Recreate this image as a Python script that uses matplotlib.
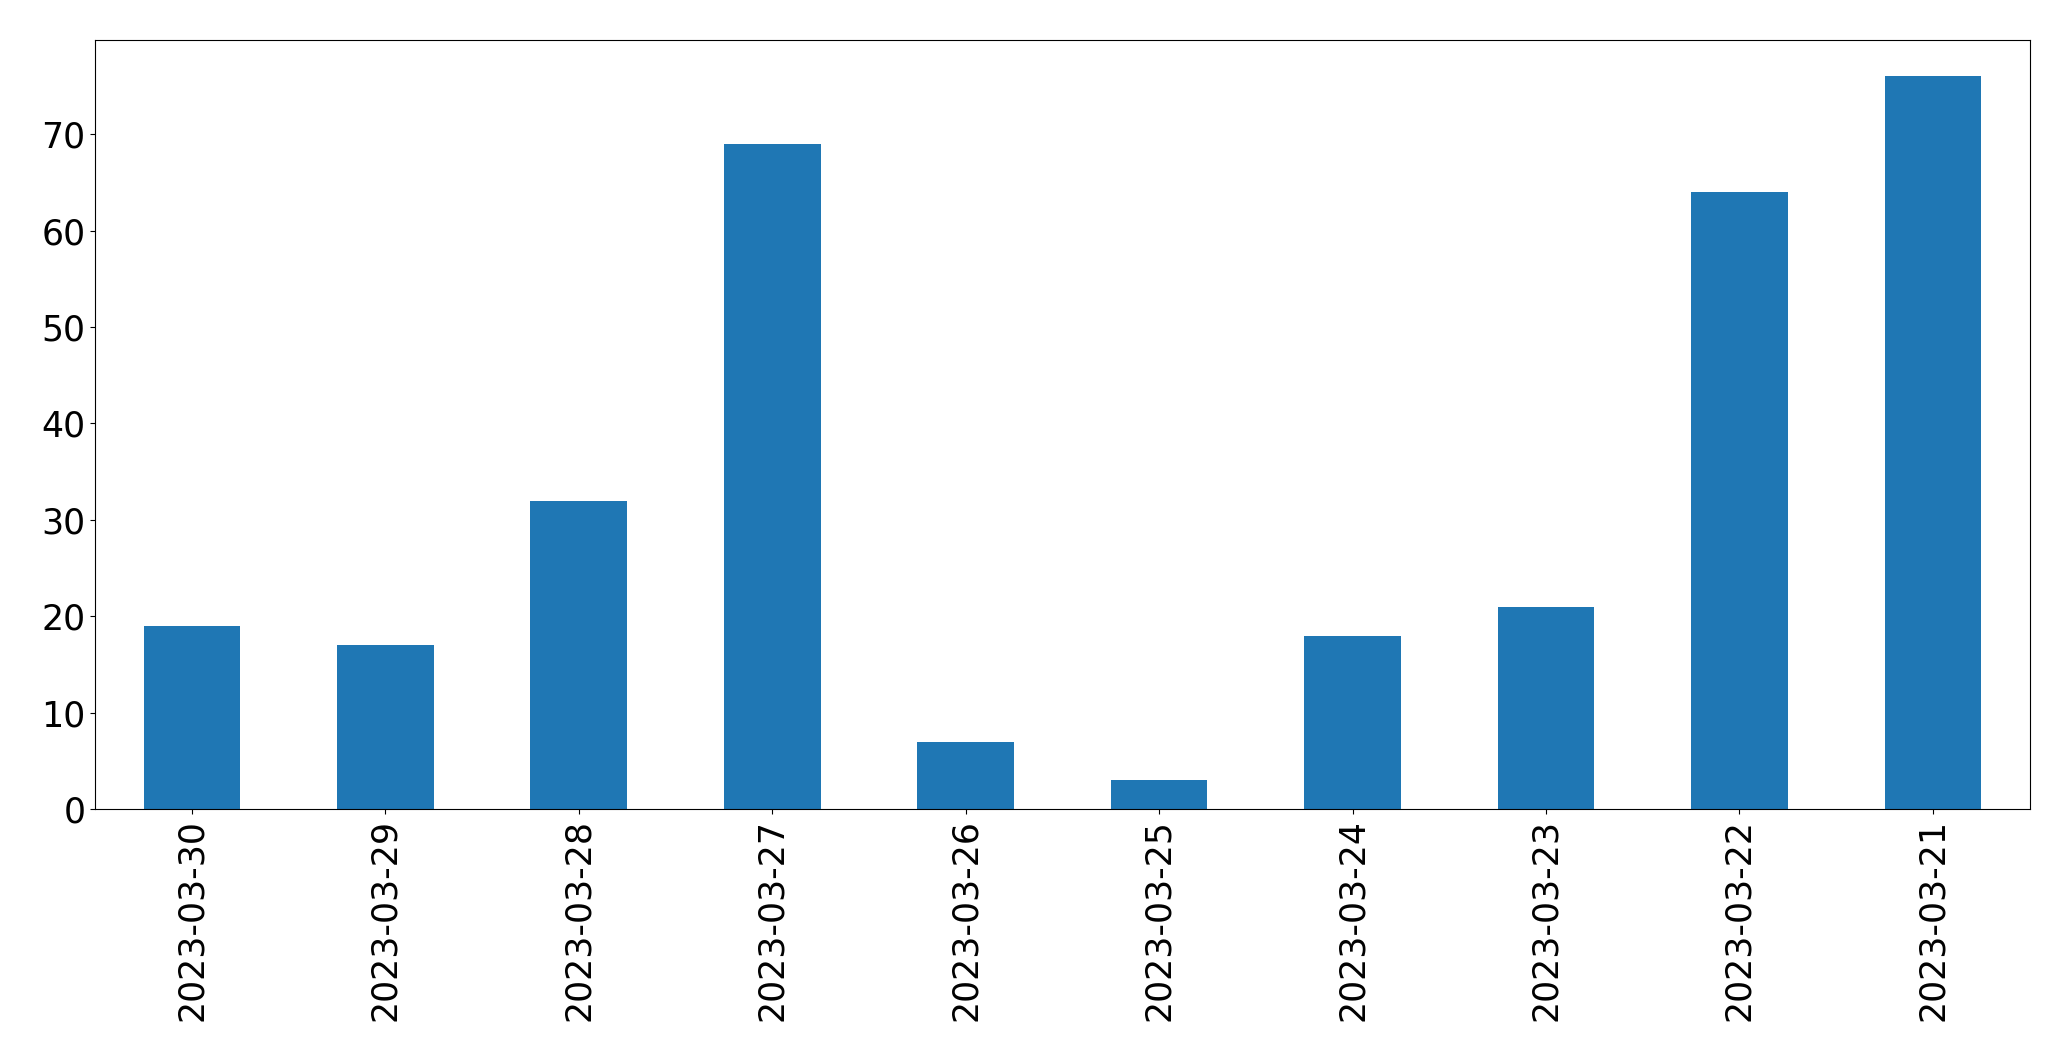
import matplotlib
matplotlib.use("Agg")
import matplotlib.pyplot as plt

dates = ["2023-03-30", "2023-03-29", "2023-03-28", "2023-03-27", "2023-03-26",
         "2023-03-25", "2023-03-24", "2023-03-23", "2023-03-22", "2023-03-21"]
counts = [19, 17, 32, 69, 7, 3, 18, 21, 64, 76]

fig = plt.figure(figsize=(20.71, 10.61), dpi=100)
ax = fig.add_axes([0.046, 0.2375, 0.934, 0.725])
x = range(len(dates))
ax.bar(x, counts, width=0.5, color="#1f77b4")
ax.set_xticks(list(x))
ax.set_xticklabels(dates, rotation=90)
ax.set_xlim(-0.5, len(dates) - 0.5)
ax.tick_params(axis="both", labelsize=25)
fig.savefig("out.png", dpi=100)
